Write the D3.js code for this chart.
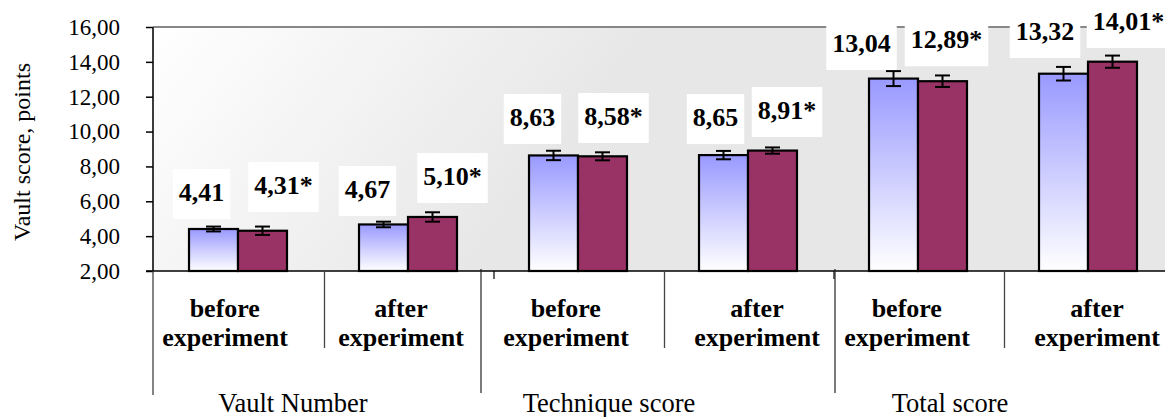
<!DOCTYPE html>
<html>
<head>
<meta charset="utf-8">
<script src="https://cdn.jsdelivr.net/npm/d3@7/dist/d3.min.js"></script>
<style>
  html, body { margin: 0; padding: 0; background: #ffffff; }
  svg { display: block; }
</style>
</head>
<body>
<svg id="chart" width="1165" height="417"></svg>
<script>
// ---- data ----
const categories = ["vn-before", "vn-after", "ts-before", "ts-after", "tot-before", "tot-after"];
const subLabels = [["before", "experiment"], ["after", "experiment"],
                   ["before", "experiment"], ["after", "experiment"],
                   ["before", "experiment"], ["after", "experiment"]];
const groupLabels = ["Vault Number", "Technique score", "Total score"];
const seriesKeys = ["first", "second"];
const firstValues = [4.41, 4.67, 8.63, 8.65, 13.04, 13.32];
const secondValues = [4.31, 5.10, 8.58, 8.91, 12.89, 14.01];
const firstErrors = [0.14, 0.16, 0.27, 0.24, 0.43, 0.39];
const secondErrors = [0.24, 0.27, 0.23, 0.18, 0.33, 0.35];
const firstMarks = ["", "", "", "", "", ""];
const secondMarks = ["*", "*", "*", "*", "*", "*"];
const yTicks = [2, 4, 6, 8, 10, 12, 14, 16];
const yTitle = "Vault score, points";

// ---- layout ----
const serif = "'Times New Roman', 'Liberation Serif', serif";
const plot = { left: 153, top: 27, bottom: 271, right: 1173 };
// hand-placed value labels: [dx from bar centre, gap above bar top]
const labelNudge = {
  first:  [[-12, 10], [-16, 8.5], [-21, 11.5], [-8, 11], [-32, 8.6], [-18.5, 15.7]],
  second: [[21, 18.7], [20, 14], [11, 13.3], [14.5, 13.6], [4, 15], [16, 13.7]]
};
const catLabelDx = [-13, -7, -12, 9, -11, 9];
const groupLabelDx = [-30, -54, -53];
const groupDividerDx = [-12, 2];
const boldSize = 26;

// advance widths (em) of the bold serif face, used to centre bold text
const boldAdvance = { "0": .5, "1": .5, "2": .5, "3": .5, "4": .5, "5": .5, "6": .5, "7": .5, "8": .5, "9": .5,
  ",": .25, "*": .5, a: .5, b: .556, e: .444, f: .333, i: .278, m: .833, n: .556, o: .5, p: .556, r: .444, t: .333, x: .5 };
const boldWidth = str => boldSize * Array.from(str).reduce((s, ch) => s + (boldAdvance[ch] || .5), 0);

// bold serif text centred on cx
function boldText(parent, cx, baseline, str) {
  const w = boldWidth(str);
  parent.append("text")
    .attr("x", cx - w / 2).attr("y", baseline)
    .attr("font-family", serif)
    .attr("font-weight", "bold")
    .attr("font-size", boldSize)
    .text(str);
  return w;
}

const svg = d3.select("#chart");
const locale = d3.formatLocale({ decimal: ",", thousands: " ", grouping: [3], currency: ["", ""] });
const fmt = locale.format(".2f");

const x0 = d3.scaleBand().domain(categories).range([plot.left, plot.right]).padding(0);
const x1 = d3.scaleBand().domain(seriesKeys).range([0, x0.bandwidth()]).paddingInner(0).paddingOuter(0.735);
const y = d3.scaleLinear().domain([2, 16]).range([plot.bottom, plot.top]);

const rows = categories.map((c, i) => ({
  cat: c, i,
  series: [
    { key: "first", value: firstValues[i], err: firstErrors[i], mark: firstMarks[i] },
    { key: "second", value: secondValues[i], err: secondErrors[i], mark: secondMarks[i] }
  ]
}));

// ---- gradients ----
const defs = svg.append("defs");
const bg = defs.append("linearGradient").attr("id", "bgGrad")
  .attr("gradientUnits", "userSpaceOnUse")
  .attr("x1", plot.left).attr("y1", plot.top).attr("x2", 470).attr("y2", plot.bottom);
bg.append("stop").attr("offset", "0%").attr("stop-color", "#ffffff");
bg.append("stop").attr("offset", "100%").attr("stop-color", "#e7e7e7");

const blue = defs.append("linearGradient").attr("id", "blueGrad")
  .attr("x1", 0).attr("y1", 0).attr("x2", 0).attr("y2", 1);
blue.append("stop").attr("offset", "0%").attr("stop-color", "#9999ff");
blue.append("stop").attr("offset", "100%").attr("stop-color", "#ffffff");

const fills = { first: "url(#blueGrad)", second: "#993366" };

// ---- plot background ----
svg.append("rect")
  .attr("x", plot.left).attr("y", plot.top)
  .attr("width", plot.right - plot.left).attr("height", plot.bottom - plot.top)
  .attr("fill", "url(#bgGrad)");

svg.append("line")
  .attr("x1", plot.left).attr("x2", plot.right)
  .attr("y1", plot.top).attr("y2", plot.top)
  .attr("stroke", "#878787").attr("stroke-width", 2);

// ---- bars ----
const groups = svg.append("g").selectAll("g").data(rows).join("g")
  .attr("transform", d => `translate(${x0(d.cat)},0)`);

groups.selectAll("rect").data(d => d.series).join("rect")
  .attr("x", s => x1(s.key))
  .attr("y", s => y(s.value))
  .attr("width", x1.bandwidth())
  .attr("height", s => y(2) - y(s.value))
  .attr("fill", s => fills[s.key])
  .attr("stroke", "#000").attr("stroke-width", 2.2);

// ---- error bars ----
const eb = groups.selectAll("g.err").data(d => d.series).join("g").attr("class", "err")
  .attr("stroke", "#000").attr("stroke-width", 2);
eb.append("line")
  .attr("x1", s => x1(s.key) + x1.bandwidth() / 2).attr("x2", s => x1(s.key) + x1.bandwidth() / 2)
  .attr("y1", s => y(s.value + s.err)).attr("y2", s => y(s.value - s.err));
eb.append("line")
  .attr("x1", s => x1(s.key) + x1.bandwidth() / 2 - 7.5).attr("x2", s => x1(s.key) + x1.bandwidth() / 2 + 7.5)
  .attr("y1", s => y(s.value + s.err)).attr("y2", s => y(s.value + s.err));
eb.append("line")
  .attr("x1", s => x1(s.key) + x1.bandwidth() / 2 - 7.5).attr("x2", s => x1(s.key) + x1.bandwidth() / 2 + 7.5)
  .attr("y1", s => y(s.value - s.err)).attr("y2", s => y(s.value - s.err));

// ---- value labels in white boxes ----
const labels = groups.selectAll("g.lab").data(d => d.series.map(s => ({ ...s, i: d.i }))).join("g")
  .attr("class", "lab");
labels.each(function (s) {
  const g = d3.select(this);
  const [dx, gap] = labelNudge[s.key][s.i];
  const cx = x1(s.key) + x1.bandwidth() / 2 + dx;
  const bottom = y(s.value) - gap;
  const str = fmt(s.value) + s.mark;
  const w = boldWidth(str);
  g.append("rect")
    .attr("x", cx - w / 2 - 6).attr("y", bottom - 50)
    .attr("width", w + 12).attr("height", 50)
    .attr("fill", "#ffffff");
  boldText(g, cx, bottom - 18, str);
});

// ---- y axis ----
const yAxis = svg.append("g")
  .attr("transform", `translate(${plot.left},0)`)
  .call(d3.axisLeft(y).tickValues(yTicks).tickFormat(fmt).tickSize(7).tickPadding(26));
yAxis.attr("font-family", serif).attr("font-size", 23);
yAxis.select(".domain").attr("stroke", "#3c3c3c").attr("stroke-width", 2)
  .attr("d", `M0,${plot.top}V${plot.bottom}`);
yAxis.selectAll(".tick line").attr("stroke", "#000").attr("stroke-width", 1.5);
yAxis.selectAll(".tick text").attr("fill", "#000");

svg.append("text")
  .attr("transform", `translate(30,${152}) rotate(-90)`)
  .attr("text-anchor", "middle")
  .attr("font-family", serif)
  .attr("font-size", 24)
  .attr("fill", "#000")
  .text(yTitle);

// ---- category axis ----
svg.append("line")
  .attr("x1", plot.left - 7).attr("x2", 1165)
  .attr("y1", plot.bottom).attr("y2", plot.bottom)
  .attr("stroke", "#000").attr("stroke-width", 1.6);

svg.append("line")
  .attr("x1", plot.left).attr("x2", plot.left)
  .attr("y1", plot.bottom).attr("y2", 395)
  .attr("stroke", "#333").attr("stroke-width", 1.2);

// dividers between before/after inside each group
categories.forEach((c, i) => {
  if (i % 2 === 1) {
    const xb = x0(c);
    svg.append("line")
      .attr("x1", xb + 1.5).attr("x2", xb + 1.5)
      .attr("y1", plot.bottom).attr("y2", 348)
      .attr("stroke", "#444").attr("stroke-width", 1.3);
  }
});
// dividers between groups plus the band ticks
categories.forEach((c, i) => {
  if (i > 0 && i % 2 === 0) {
    const xb = x0(c);
    const gi = i / 2 - 1;
    svg.append("line")
      .attr("x1", xb + 1).attr("x2", xb + 1)
      .attr("y1", plot.bottom).attr("y2", plot.bottom + 8)
      .attr("stroke", "#000").attr("stroke-width", 1.2);
    svg.append("line")
      .attr("x1", xb + groupDividerDx[gi]).attr("x2", xb + groupDividerDx[gi])
      .attr("y1", plot.bottom - 2).attr("y2", 393)
      .attr("stroke", "#222").attr("stroke-width", 1.2);
  }
});

// sub-category labels
categories.forEach((c, i) => {
  const cx = x0(c) + x0.bandwidth() / 2 + catLabelDx[i];
  subLabels[i].forEach((line, k) => {
    boldText(svg, cx, 317 + k * 29, line);
  });
});

// group labels
groupLabels.forEach((g, gi) => {
  const cx = x0(categories[gi * 2]) + x0.bandwidth() + groupLabelDx[gi];
  svg.append("text")
    .attr("x", cx).attr("y", 412)
    .attr("text-anchor", "middle")
    .attr("font-family", serif)
    .attr("font-size", 26.5)
    .attr("fill", "#000")
    .text(g);
});
</script>
</body>
</html>
